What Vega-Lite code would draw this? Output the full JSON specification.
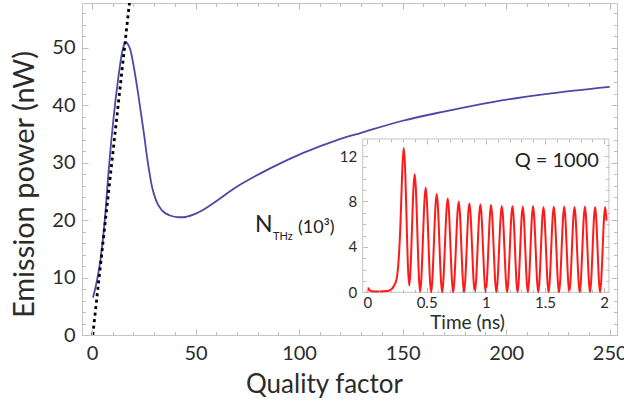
{
  "$schema": "https://vega.github.io/schema/vega-lite/v6.json",
  "width": 535,
  "height": 332,
  "autosize": {"type": "none"},
  "padding": {"left": 82, "top": 3, "right": 7, "bottom": 68},
  "background": "white",
  "config": {
    "view": {"stroke": "#c4c4c4", "strokeWidth": 1},
    "font": "Lato",
    "axis": {"grid": false, "labelFont": "Lato", "titleFont": "Lato", "labelColor": "#2b2b2b", "titleColor": "#2b2b2b", "titleFontWeight": "normal", "labelFlush": false, "labelOverlap": false, "tickColor": "#bdbdbd", "domainColor": "#c4c4c4", "tickWidth": 1}
  },
  "datasets": {
    "power": [
      {"Q": 0.5, "P": 6.5}, {"Q": 1.6, "P": 8.1}, {"Q": 3, "P": 10.6}, {"Q": 4.1, "P": 13.1}, {"Q": 6.2, "P": 20},
      {"Q": 8, "P": 28.3}, {"Q": 10.5, "P": 38}, {"Q": 12.6, "P": 44.4}, {"Q": 14.5, "P": 49.1}, {"Q": 15.6, "P": 50.6},
      {"Q": 16.5, "P": 51}, {"Q": 17.4, "P": 50.6}, {"Q": 18.5, "P": 49.7}, {"Q": 20.2, "P": 46.7}, {"Q": 22.6, "P": 41.3},
      {"Q": 25, "P": 35.3}, {"Q": 27, "P": 30}, {"Q": 29, "P": 25.8}, {"Q": 31, "P": 23.4}, {"Q": 33.8, "P": 21.7},
      {"Q": 37.7, "P": 20.8}, {"Q": 41.9, "P": 20.5}, {"Q": 44.1, "P": 20.5}, {"Q": 49.9, "P": 21.1}, {"Q": 53.8, "P": 21.8},
      {"Q": 58, "P": 22.8}, {"Q": 69.9, "P": 25.8}, {"Q": 86, "P": 29}, {"Q": 102, "P": 31.7}, {"Q": 118, "P": 33.9},
      {"Q": 130, "P": 35.2}, {"Q": 150, "P": 37.3}, {"Q": 170, "P": 38.9}, {"Q": 194, "P": 40.6}, {"Q": 218, "P": 41.9},
      {"Q": 250, "P": 43.2}
    ],
    "tangent": [{"Q": 0.4, "P": 0}, {"Q": 18.5, "P": 59.1}],
    "photons": [
      {"t": 0, "n": 0.05}, {"t": 0.006, "n": 0.35}, {"t": 0.015, "n": 0.25}, {"t": 0.03, "n": 0.1}, {"t": 0.1, "n": 0.08},
      {"t": 0.17, "n": 0.12}, {"t": 0.2, "n": 0.25}, {"t": 0.22, "n": 0.5}, {"t": 0.245, "n": 1.1}, {"t": 0.258, "n": 2.1},
      {"t": 0.268, "n": 3.6}, {"t": 0.277, "n": 5.5}, {"t": 0.286, "n": 8.2}, {"t": 0.296, "n": 11.2}, {"t": 0.307, "n": 12.7},
      {"t": 0.353, "n": 0.6}, {"t": 0.399, "n": 10.4}, {"t": 0.445, "n": 0.05}, {"t": 0.492, "n": 9.2}, {"t": 0.538, "n": 0},
      {"t": 0.585, "n": 8.65}, {"t": 0.631, "n": 0}, {"t": 0.678, "n": 8.25}, {"t": 0.724, "n": 0}, {"t": 0.771, "n": 8.0},
      {"t": 0.816, "n": 0}, {"t": 0.861, "n": 7.85}, {"t": 0.907, "n": 0}, {"t": 0.954, "n": 7.75}, {"t": 0.999, "n": 0},
      {"t": 1.044, "n": 7.7}, {"t": 1.089, "n": 0}, {"t": 1.135, "n": 7.6}, {"t": 1.18, "n": 0}, {"t": 1.225, "n": 7.6},
      {"t": 1.268, "n": 0}, {"t": 1.312, "n": 7.55}, {"t": 1.355, "n": 0}, {"t": 1.399, "n": 7.6}, {"t": 1.443, "n": 0},
      {"t": 1.487, "n": 7.5}, {"t": 1.53, "n": 0}, {"t": 1.574, "n": 7.55}, {"t": 1.618, "n": 0}, {"t": 1.662, "n": 7.55},
      {"t": 1.705, "n": 0}, {"t": 1.749, "n": 7.5}, {"t": 1.793, "n": 0}, {"t": 1.837, "n": 7.55}, {"t": 1.88, "n": 0},
      {"t": 1.923, "n": 7.5}, {"t": 1.965, "n": 0}, {"t": 2.008, "n": 7.5}, {"t": 2.02, "n": 6.3}
    ],
    "one": [{}]
  },
  "resolve": {"scale": {"x": "independent", "y": "independent"}, "axis": {"x": "independent", "y": "independent"}},
  "layer": [
    {
      "data": {"name": "power"},
      "mark": {"type": "line", "color": "#4a4aa6", "strokeWidth": 1.8, "interpolate": "monotone"},
      "encoding": {
        "x": {"field": "Q", "type": "quantitative", "scale": {"domain": [-4.8, 253.5], "nice": false},
          "axis": {"orient": "bottom", "values": [0, 50, 100, 150, 200, 250], "format": "d", "ticks": false, "domain": false, "labelFontSize": 20, "labelPadding": 8,
            "title": "Quality factor", "titleFontSize": 26, "titleX": 242, "titleY": 57, "titleBaseline": "alphabetic", "titleAlign": "center"}},
        "y": {"field": "P", "type": "quantitative", "scale": {"domain": [0, 57.8], "nice": false},
          "axis": {"orient": "left", "values": [0, 10, 20, 30, 40, 50], "format": "d", "ticks": false, "domain": false, "labelFontSize": 20, "labelPadding": 7,
            "title": "Emission power (nW)", "titleFontSize": 29, "titleAngle": 270, "titleX": -49, "titleY": 181, "titleBaseline": "alphabetic", "titleAlign": "center"}}
      }
    },
    {
      "data": {"name": "tangent"},
      "mark": {"type": "line", "color": "black", "strokeWidth": 2.8, "strokeDash": [3, 3.5], "clip": true},
      "encoding": {
        "x": {"field": "Q", "type": "quantitative", "scale": {"domain": [-4.8, 253.5], "nice": false},
          "axis": {"orient": "top", "offset": -332, "values": [0, 50, 100, 150, 200, 250], "labels": false, "domain": false, "tickSize": 6, "title": null, "zindex": 1}},
        "y": {"field": "P", "type": "quantitative", "scale": {"domain": [0, 57.8], "nice": false},
          "axis": {"orient": "right", "offset": -535, "values": [0, 10, 20, 30, 40, 50], "labels": false, "domain": false, "tickSize": 6, "title": null, "zindex": 1}}
      }
    },
    {
      "data": {"name": "power"},
      "mark": {"type": "line", "strokeOpacity": 0},
      "encoding": {
        "x": {"field": "Q", "type": "quantitative", "scale": {"domain": [-4.8, 253.5], "nice": false},
          "axis": {"orient": "top", "offset": -332, "values": [10, 20, 30, 40, 60, 70, 80, 90, 110, 120, 130, 140, 160, 170, 180, 190, 210, 220, 230, 240], "labels": false, "domain": false, "tickSize": 3.5, "title": null, "zindex": 1}},
        "y": {"field": "P", "type": "quantitative", "scale": {"domain": [0, 57.8], "nice": false},
          "axis": {"orient": "right", "offset": -535, "values": [2, 4, 6, 8, 12, 14, 16, 18, 22, 24, 26, 28, 32, 34, 36, 38, 42, 44, 46, 48, 52, 54, 56], "labels": false, "domain": false, "tickSize": 3.5, "title": null, "zindex": 1}}
      }
    },
    {
      "data": {"name": "power"},
      "mark": {"type": "line", "strokeOpacity": 0},
      "encoding": {
        "x": {"field": "Q", "type": "quantitative", "scale": {"domain": [-4.8, 253.5], "nice": false},
          "axis": {"orient": "bottom", "offset": -332, "values": [0, 50, 100, 150, 200, 250], "labels": false, "domain": false, "tickSize": 6, "title": null, "zindex": 1}},
        "y": {"field": "P", "type": "quantitative", "scale": {"domain": [0, 57.8], "nice": false},
          "axis": {"orient": "left", "offset": -535, "values": [0, 10, 20, 30, 40, 50], "labels": false, "domain": false, "tickSize": 6, "title": null, "zindex": 1}}
      }
    },
    {
      "data": {"name": "power"},
      "mark": {"type": "line", "strokeOpacity": 0},
      "encoding": {
        "x": {"field": "Q", "type": "quantitative", "scale": {"domain": [-4.8, 253.5], "nice": false},
          "axis": {"orient": "bottom", "offset": -332, "values": [10, 20, 30, 40, 60, 70, 80, 90, 110, 120, 130, 140, 160, 170, 180, 190, 210, 220, 230, 240], "labels": false, "domain": false, "tickSize": 3.5, "title": null, "zindex": 1}},
        "y": {"field": "P", "type": "quantitative", "scale": {"domain": [0, 57.8], "nice": false},
          "axis": {"orient": "left", "offset": -535, "values": [2, 4, 6, 8, 12, 14, 16, 18, 22, 24, 26, 28, 32, 34, 36, 38, 42, 44, 46, 48, 52, 54, 56], "labels": false, "domain": false, "tickSize": 3.5, "title": null, "zindex": 1}}
      }
    },
    {
      "data": {"name": "one"},
      "mark": {"type": "rect", "fill": null, "stroke": "#c4c4c4", "strokeWidth": 1},
      "encoding": {
        "x": {"datum": -0.04, "type": "quantitative", "scale": {"domain": [-2.411, 2.108], "nice": false}, "axis": null},
        "x2": {"datum": 2.04},
        "y": {"datum": 0, "type": "quantitative", "scale": {"domain": [-3.759, 25.47], "nice": false}, "axis": null},
        "y2": {"datum": 13.5}
      }
    },
    {
      "data": {"name": "photons"},
      "mark": {"type": "line", "color": "#ff1a1a", "strokeWidth": 2, "interpolate": "monotone"},
      "encoding": {
        "x": {"field": "t", "type": "quantitative", "scale": {"domain": [-2.411, 2.108], "nice": false},
          "axis": {"orient": "bottom", "offset": -42.7, "values": [0, 0.5, 1, 1.5, 2], "format": ".2~f", "ticks": false, "domain": false, "labelFontSize": 15, "labelPadding": 3.5,
            "title": "Time (ns)", "titleFontSize": 19, "titleX": 385, "titleY": 36, "titleBaseline": "alphabetic", "titleAlign": "center", "zindex": 1}},
        "y": {"field": "n", "type": "quantitative", "scale": {"domain": [-3.759, 25.47], "nice": false},
          "axis": {"orient": "left", "offset": -280.7, "values": [0, 4, 8, 12], "format": ".2~f", "ticks": false, "domain": false, "labelFontSize": 15, "labelPadding": 6, "title": null, "zindex": 1}}
      }
    },
    {
      "data": {"name": "photons"},
      "mark": {"type": "line", "strokeOpacity": 0},
      "encoding": {
        "x": {"field": "t", "type": "quantitative", "scale": {"domain": [-2.411, 2.108], "nice": false},
          "axis": {"orient": "top", "offset": -289.3, "values": [0, 0.5, 1, 1.5, 2], "labels": false, "domain": false, "tickSize": 5, "title": null, "zindex": 1}},
        "y": {"field": "n", "type": "quantitative", "scale": {"domain": [-3.759, 25.47], "nice": false},
          "axis": {"orient": "right", "offset": -254.3, "values": [0, 4, 8, 12], "labels": false, "domain": false, "tickSize": 5, "title": null, "zindex": 1}}
      }
    },
    {
      "data": {"name": "photons"},
      "mark": {"type": "line", "strokeOpacity": 0},
      "encoding": {
        "x": {"field": "t", "type": "quantitative", "scale": {"domain": [-2.411, 2.108], "nice": false},
          "axis": {"orient": "top", "offset": -289.3, "values": [0.1, 0.2, 0.3, 0.4, 0.6, 0.7, 0.8, 0.9, 1.1, 1.2, 1.3, 1.4, 1.6, 1.7, 1.8, 1.9], "labels": false, "domain": false, "tickSize": 3, "title": null, "zindex": 1}},
        "y": {"field": "n", "type": "quantitative", "scale": {"domain": [-3.759, 25.47], "nice": false},
          "axis": {"orient": "right", "offset": -254.3, "values": [1, 2, 3, 5, 6, 7, 9, 10, 11, 13], "labels": false, "domain": false, "tickSize": 3, "title": null, "zindex": 1}}
      }
    },
    {
      "data": {"name": "photons"},
      "mark": {"type": "line", "strokeOpacity": 0},
      "encoding": {
        "x": {"field": "t", "type": "quantitative", "scale": {"domain": [-2.411, 2.108], "nice": false},
          "axis": {"orient": "bottom", "offset": -196, "values": [0, 0.5, 1, 1.5, 2], "labels": false, "domain": false, "tickSize": 5, "title": null, "zindex": 1}},
        "y": {"field": "n", "type": "quantitative", "scale": {"domain": [-3.759, 25.47], "nice": false},
          "axis": {"orient": "left", "offset": -527, "values": [0, 4, 8, 12], "labels": false, "domain": false, "tickSize": 5, "title": null, "zindex": 1}}
      }
    },
    {
      "data": {"name": "photons"},
      "mark": {"type": "line", "strokeOpacity": 0},
      "encoding": {
        "x": {"field": "t", "type": "quantitative", "scale": {"domain": [-2.411, 2.108], "nice": false},
          "axis": {"orient": "bottom", "offset": -196, "values": [0.1, 0.2, 0.3, 0.4, 0.6, 0.7, 0.8, 0.9, 1.1, 1.2, 1.3, 1.4, 1.6, 1.7, 1.8, 1.9], "labels": false, "domain": false, "tickSize": 3, "title": null, "zindex": 1}},
        "y": {"field": "n", "type": "quantitative", "scale": {"domain": [-3.759, 25.47], "nice": false},
          "axis": {"orient": "left", "offset": -527, "values": [1, 2, 3, 5, 6, 7, 9, 10, 11, 13], "labels": false, "domain": false, "tickSize": 3, "title": null, "zindex": 1}}
      }
    },
    {
      "data": {"name": "one"},
      "mark": {"type": "text", "text": "Q = 1000", "font": "Lato", "fontSize": 20, "color": "#222222", "align": "right", "baseline": "alphabetic"},
      "encoding": {
        "x": {"datum": 1.955, "type": "quantitative", "scale": {"domain": [-2.411, 2.108], "nice": false}, "axis": null},
        "y": {"datum": 11.05, "type": "quantitative", "scale": {"domain": [-3.759, 25.47], "nice": false}, "axis": null}
      }
    },
    {
      "data": {"name": "one"},
      "mark": {"type": "text", "text": "N", "font": "Lato", "fontSize": 23, "color": "#222222", "align": "left", "baseline": "alphabetic"},
      "encoding": {
        "x": {"datum": -0.95, "type": "quantitative", "scale": {"domain": [-2.411, 2.108], "nice": false}, "axis": null},
        "y": {"datum": 5.34, "type": "quantitative", "scale": {"domain": [-3.759, 25.47], "nice": false}, "axis": null}
      }
    },
    {
      "data": {"name": "one"},
      "mark": {"type": "text", "text": "THz", "font": "Lato", "fontSize": 11, "color": "#222222", "align": "left", "baseline": "alphabetic"},
      "encoding": {
        "x": {"datum": -0.798, "type": "quantitative", "scale": {"domain": [-2.411, 2.108], "nice": false}, "axis": null},
        "y": {"datum": 4.61, "type": "quantitative", "scale": {"domain": [-3.759, 25.47], "nice": false}, "axis": null}
      }
    },
    {
      "data": {"name": "one"},
      "mark": {"type": "text", "text": "(10³)", "font": "Lato", "fontSize": 18, "color": "#222222", "align": "left", "baseline": "alphabetic"},
      "encoding": {
        "x": {"datum": -0.587, "type": "quantitative", "scale": {"domain": [-2.411, 2.108], "nice": false}, "axis": null},
        "y": {"datum": 5.2, "type": "quantitative", "scale": {"domain": [-3.759, 25.47], "nice": false}, "axis": null}
      }
    }
  ]
}
